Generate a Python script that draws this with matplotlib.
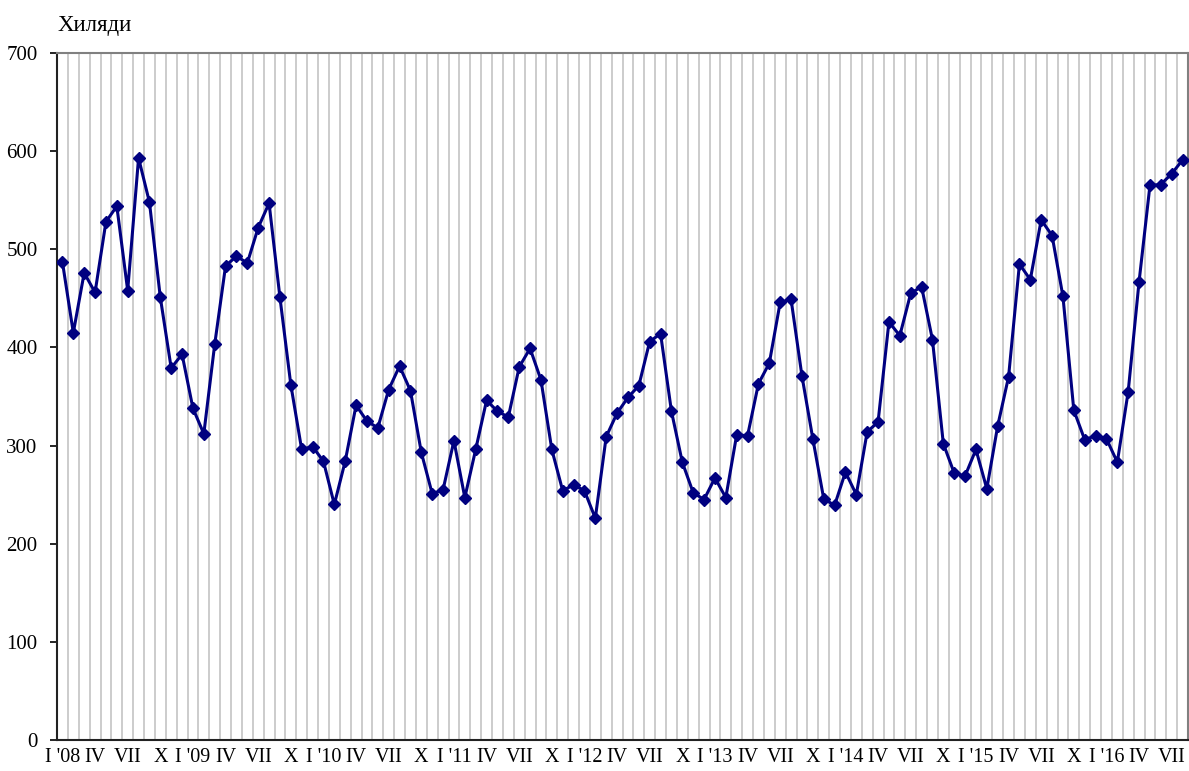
"""
Monthly values 2008-2016 (thousands) - line chart with diamond markers
"""

import numpy as np
import matplotlib
matplotlib.use('Agg')
import matplotlib.pyplot as plt

# Data (thousands), one list per year
VALUES_2008 = [487, 415, 476, 456, 528, 544, 458, 593, 548, 451, 379, 393]
VALUES_2009 = [338, 312, 403, 483, 493, 486, 522, 547, 451, 362, 296, 299]
VALUES_2010 = [284, 240, 284, 341, 325, 318, 357, 381, 356, 293, 251, 255]
VALUES_2011 = [305, 247, 296, 346, 335, 329, 380, 399, 367, 296, 254, 260]
VALUES_2012 = [254, 226, 309, 333, 349, 361, 406, 414, 335, 283, 252, 245]
VALUES_2013 = [267, 247, 311, 310, 363, 384, 446, 449, 371, 307, 246, 239]
VALUES_2014 = [273, 250, 314, 324, 426, 412, 455, 462, 408, 302, 272, 269]
VALUES_2015 = [296, 256, 320, 370, 485, 469, 530, 514, 452, 336, 306, 310]
VALUES_2016 = [307, 283, 355, 467, 565, 566, 577, 591]

YEARS = ['08', '09', '10', '11', '12', '13', '14', '15', '16']
QUARTER_MONTHS = ['I', 'IV', 'VII', 'X']
Y_TICKS = [0, 100, 200, 300, 400, 500, 600, 700]
Y_LABEL = 'Хиляди'

LINE_COLOR = '#000080'
GRID_COLOR = '#c8c8c8'
BORDER_COLOR = '#808080'


def build_series() -> np.ndarray:
    """年ごとのリストを一本の系列にまとめる"""
    return np.array(VALUES_2008 + VALUES_2009 + VALUES_2010 + VALUES_2011
                    + VALUES_2012 + VALUES_2013 + VALUES_2014 + VALUES_2015
                    + VALUES_2016, dtype=float)


def build_tick_labels(n: int) -> tuple[list[int], list[str]]:
    """3か月ごとのローマ数字ラベル（1月は年付き）"""
    positions, labels = [], []
    for i in range(0, n, 3):
        month = QUARTER_MONTHS[(i % 12) // 3]
        if i % 12 == 0:
            month = f"{month} '{YEARS[i // 12]}"
        positions.append(i)
        labels.append(month)
    return positions, labels


def main() -> None:
    plt.rcParams['font.family'] = ['Liberation Serif', 'DejaVu Serif']

    values = build_series()
    n = len(values)
    x = np.arange(n)

    fig = plt.figure(figsize=(11.89, 7.71), dpi=100)
    ax = fig.add_axes([57 / 1189, 31 / 771, 1131 / 1189, 687 / 771])

    # month boundary gridlines
    ax.set_xticks(np.arange(0.5, n - 0.5, 1.0), minor=True)
    ax.grid(True, which='minor', axis='x', color=GRID_COLOR, linewidth=1.3)
    ax.tick_params(axis='x', which='minor', length=0)

    ax.plot(x, values, color=LINE_COLOR, linewidth=2.2,
            marker='D', markersize=5.8, markerfacecolor=LINE_COLOR,
            markeredgecolor=LINE_COLOR, zorder=3)

    ax.set_xlim(-0.5, n - 0.5)
    ax.set_ylim(0, 700)

    positions, labels = build_tick_labels(n)
    ax.set_xticks(positions)
    ax.set_xticklabels(labels, fontsize=14.5)
    ax.tick_params(axis='x', which='major', length=0, pad=6)

    ax.set_yticks(Y_TICKS)
    ax.set_yticklabels([str(v) for v in Y_TICKS], fontsize=15)
    ax.tick_params(axis='y', length=5, width=1.2, pad=9, direction='out')

    for side in ['left', 'bottom']:
        ax.spines[side].set_color('#222222')
        ax.spines[side].set_linewidth(1.5)
    for side in ['top', 'right']:
        ax.spines[side].set_color(BORDER_COLOR)
        ax.spines[side].set_linewidth(1.5)

    fig.text(57 / 1189, 1 - 25 / 771, Y_LABEL, fontsize=16.5,
             ha='left', va='center')

    fig.savefig('out.png', dpi=100)
    plt.close(fig)


if __name__ == "__main__":
    main()
